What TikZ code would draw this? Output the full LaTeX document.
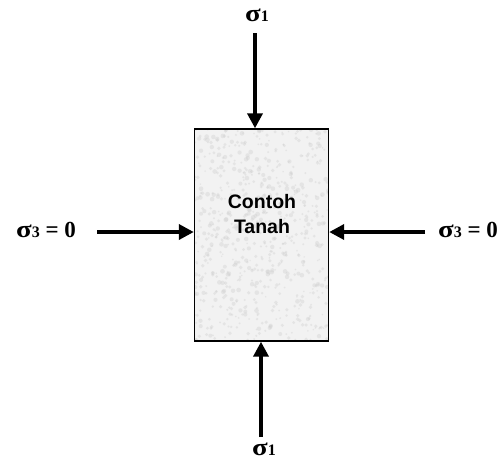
\documentclass[tikz,border=0pt]{standalone}
\usepackage{fontspec}
\setmainfont{Liberation Serif}
\newfontfamily\arialfont{Liberation Sans}
\usetikzlibrary{arrows.meta}
\newcommand\sgmlab[1]{{\fontsize{23}{23}\selectfont\bfseries\scalebox{1.25}[1.05]{σ}{\fontsize{16}{16}\selectfont #1}}}
\begin{document}
\begin{tikzpicture}[x=1pt,y=-1pt,
  force/.style={line width=3.6pt,-{Triangle[length=15pt,width=15pt]}},
  sample/.style={draw=black,line width=1.4pt,minimum width=134pt,minimum height=212pt,inner sep=0pt},
  speck/.style={fill=gray!40,opacity=0.35},
  sgmtext/.style={inner sep=0pt,anchor=center},
  boxtext/.style={inner sep=0pt,align=center,font=\arialfont\bfseries\fontsize{19.5}{25}\selectfont}]
\useasboundingbox (0,0) rectangle (502,459);
\fill[gray!10] (194.5,129) rectangle (328.5,341);
\begin{scope}
  \clip (194.5,129) rectangle (328.5,341);
  \pgfmathsetseed{11}
  \foreach \i in {1,...,700} {
    \fill[speck] ({194.5+134*rnd},{129+212*rnd}) circle ({0.8+1.6*rnd});
  }
\end{scope}
\node[sample] (box) at (261.5,235) {};
\node[boxtext] (lbl) at (262,214) {Contoh\\Tanah};
% free ends
\coordinate (tstart) at (255,33);
\coordinate (bstart) at (261,437);
\coordinate (lstart) at (97,232);
\coordinate (rstart) at (425,232);
\draw[force] (tstart) -- (tstart |- box.north);
\draw[force] (bstart) -- (bstart |- box.south);
\draw[force] (lstart) -- (lstart -| box.west);
\draw[force] (rstart) -- (rstart -| box.east);
% labels
\node[sgmtext] (ttop) at (257,15) {\sgmlab{1}};
\node[sgmtext] (tbot) at (264,449) {\sgmlab{1}};
\node[sgmtext] (tleft) at (46,230) {\sgmlab{3}\fontsize{23}{23}\selectfont\bfseries{} = 0};
\node[sgmtext] (tright) at (468,230) {\sgmlab{3}\fontsize{23}{23}\selectfont\bfseries{} = 0};
\end{tikzpicture}
\end{document}
